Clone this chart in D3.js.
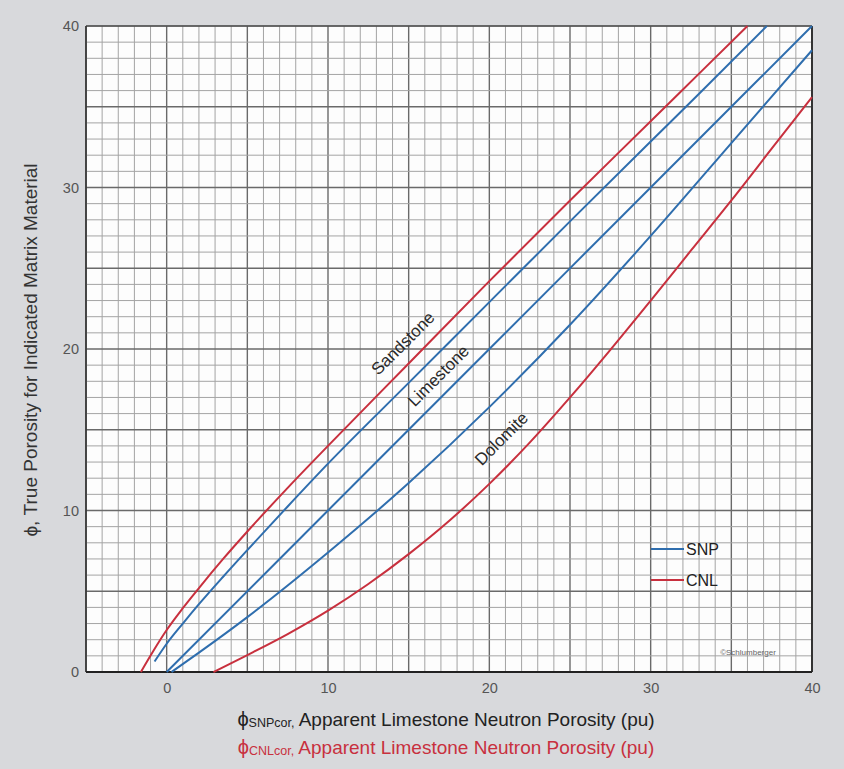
<!DOCTYPE html>
<html>
<head>
<meta charset="utf-8">
<script src="https://cdn.jsdelivr.net/npm/d3@7"></script>
<style>
  html, body { margin: 0; padding: 0; background: #d8d9dc; }
  svg { display: block; }
</style>
</head>
<body>
<svg id="chart" width="844" height="769"></svg>
<script>
// ---- data (apparent limestone porosity -> true porosity) ----
const xTickLabels = [0, 10, 20, 30, 40];
const yTickLabels = [0, 10, 20, 30, 40];

const cnlSandstone = [[-1.6, 0], [-0.8, 1.35], [0, 2.6], [1, 3.95], [2, 5.2], [3.5, 7.0], [5, 8.7], [7.5, 11.4], [10, 14.0], [15, 19.1], [20, 24.2], [25, 29.2], [30, 34.1], [33, 37.05], [36, 40]];
const snpSandstone = [[-0.75, 0.65], [0, 1.75], [1, 3.0], [2, 4.2], [3.5, 5.9], [5, 7.55], [7.5, 10.25], [10, 12.9], [15, 17.9], [20, 22.9], [25, 27.9], [30, 32.85], [33, 35.8], [37.2, 40]];
const snpLimestone = [[0, 0], [10, 10], [20, 20], [30, 30], [40, 40]];
const snpDolomite = [[0.3, 0], [2, 1.2], [5, 3.4], [10, 7.4], [15, 11.7], [20, 16.4], [25, 21.5], [30, 27.0], [35, 32.75], [40, 38.5]];
const cnlDolomite = [[2.9, 0], [5, 1.05], [7.5, 2.35], [10, 3.8], [12.5, 5.45], [15, 7.3], [17.5, 9.35], [20, 11.65], [22.5, 14.2], [25, 17.0], [27.5, 19.95], [30, 23.0], [32.5, 26.1], [35, 29.2], [37.5, 32.4], [40, 35.6]];

const seriesTools = ["CNL", "SNP", "SNP", "SNP", "CNL"];
const seriesData = [cnlSandstone, snpSandstone, snpLimestone, snpDolomite, cnlDolomite];

const curveLabels = ["Sandstone", "Limestone", "Dolomite"];
const curveLabelAt = [[14.9, 20.1], [17.1, 18.1], [21.0, 14.2]];

const legendNames = ["SNP", "CNL"];

// ---- layout ----
const svg = d3.select("#chart");
const pL = 86, pR = 812, pT = 26, pB = 672;
const x = d3.scaleLinear().domain([-5, 40]).range([pL, pR]);
const y = d3.scaleLinear().domain([0, 40]).range([pB, pT]);
const color = { SNP: "#2f6eae", CNL: "#c8303e" };
const FONT = "Liberation Sans, Arial, sans-serif";

// plot background
svg.append("rect").attr("x", pL).attr("y", pT).attr("width", pR - pL).attr("height", pB - pT).attr("fill", "#fdfdfd");

// grid
const g = svg.append("g");
d3.range(-5, 41, 1).forEach(v => {
  const major = v % 5 === 0;
  g.append("line").attr("x1", x(v)).attr("x2", x(v)).attr("y1", pT).attr("y2", pB)
    .attr("stroke", major ? "#6a6a6a" : "#a4a4a4").attr("stroke-width", major ? 1.4 : 1);
});
d3.range(0, 41, 1).forEach(v => {
  const major = v % 5 === 0;
  g.append("line").attr("y1", y(v)).attr("y2", y(v)).attr("x1", pL).attr("x2", pR)
    .attr("stroke", major ? "#6a6a6a" : "#a4a4a4").attr("stroke-width", major ? 1.4 : 1);
});

// frame
svg.append("line").attr("x1", pL).attr("x2", pR).attr("y1", pT).attr("y2", pT).attr("stroke", "#444").attr("stroke-width", 1.2);
svg.append("line").attr("x1", pL).attr("x2", pL).attr("y1", pT).attr("y2", pB).attr("stroke", "#333").attr("stroke-width", 1.6);
svg.append("line").attr("x1", pR).attr("x2", pR).attr("y1", pT).attr("y2", pB).attr("stroke", "#333").attr("stroke-width", 2);
svg.append("line").attr("x1", pL).attr("x2", pR).attr("y1", pB).attr("y2", pB).attr("stroke", "#222").attr("stroke-width", 2.2);

// axes tick labels
const xAxis = svg.append("g").attr("transform", `translate(0,${pB})`)
  .call(d3.axisBottom(x).tickValues(xTickLabels).tickSize(0).tickPadding(11).tickFormat(d3.format("d")));
xAxis.select(".domain").remove();
xAxis.selectAll("text").attr("font-family", FONT).attr("font-size", 14.5).attr("fill", "#555");

const yAxis = svg.append("g").attr("transform", `translate(${pL},0)`)
  .call(d3.axisLeft(y).tickValues(yTickLabels).tickSize(0).tickPadding(7).tickFormat(d3.format("d")));
yAxis.select(".domain").remove();
yAxis.selectAll("text").attr("font-family", FONT).attr("font-size", 14.5).attr("fill", "#555");

// curves
const line = d3.line().x(d => x(d[0])).y(d => y(d[1])).curve(d3.curveMonotoneX);
seriesData.forEach((data, i) => {
  svg.append("path").attr("d", line(data)).attr("fill", "none")
    .attr("stroke", color[seriesTools[i]]).attr("stroke-width", 2);
});

// curve labels
curveLabels.forEach((t, i) => {
  const [cx, cy] = curveLabelAt[i];
  svg.append("text").attr("transform", `translate(${x(cx)},${y(cy)}) rotate(-45)`)
    .attr("text-anchor", "middle").attr("font-family", FONT)
    .attr("font-size", 17).attr("fill", "#2a2a2a").text(t);
});

// legend
legendNames.forEach((n, i) => {
  const ly = 549 + i * 31;
  svg.append("line").attr("x1", 651).attr("x2", 684).attr("y1", ly).attr("y2", ly)
    .attr("stroke", color[n]).attr("stroke-width", 2);
  svg.append("text").attr("x", 686).attr("y", ly + 6).attr("font-family", FONT)
    .attr("font-size", 16).attr("fill", "#222").text(n);
});

// copyright
svg.append("text").attr("x", 748).attr("y", 655).attr("text-anchor", "middle")
  .attr("font-family", FONT).attr("font-size", 8).attr("fill", "#666").text("©Schlumberger");

// y title
svg.append("text").attr("transform", "translate(37,350) rotate(-90)").attr("text-anchor", "middle")
  .attr("font-family", FONT).attr("font-size", 19).attr("fill", "#333")
  .text("ϕ, True Porosity for Indicated Matrix Material");

// x titles
function xTitle(yPos, sub, fill) {
  const t = svg.append("text").attr("x", 446).attr("y", yPos).attr("text-anchor", "middle")
    .attr("font-family", FONT).attr("font-size", 19).attr("fill", fill);
  t.append("tspan").attr("font-size", 20).text("ϕ");
  t.append("tspan").attr("font-size", 12.5).attr("dy", 1).text(sub + ",");
  t.append("tspan").attr("dy", -1).text(" Apparent Limestone Neutron Porosity (pu)");
}
xTitle(726, "SNPcor", "#222");
xTitle(754, "CNLcor", "#c8303e");
</script>
</body>
</html>
